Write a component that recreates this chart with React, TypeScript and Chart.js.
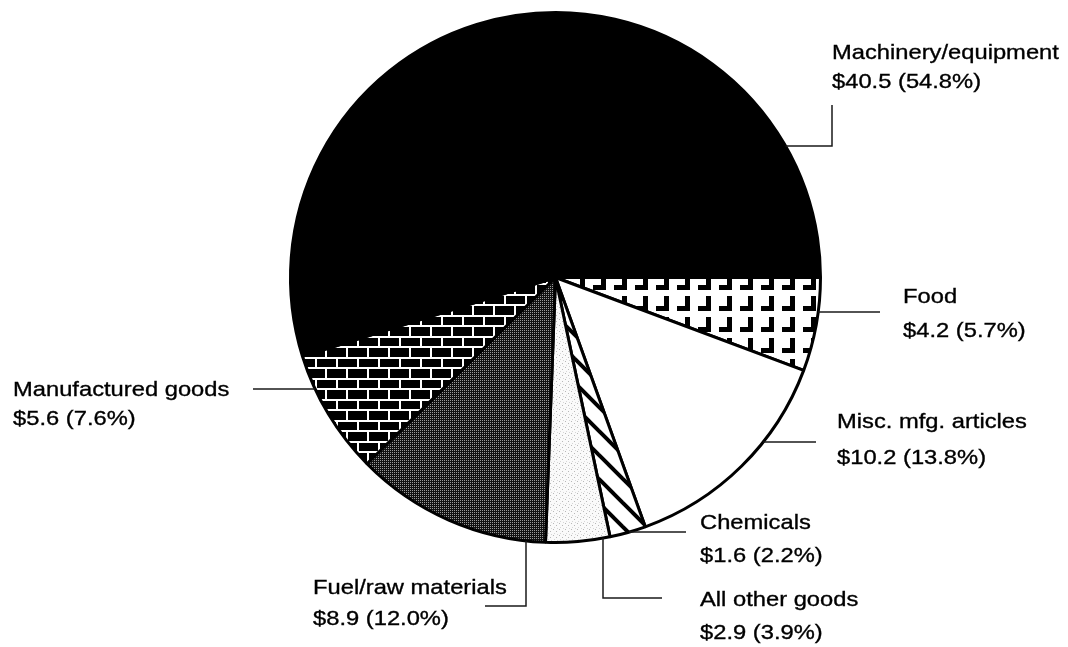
import React, { useEffect, useRef } from 'react';
import { Chart, registerables } from 'chart.js';

Chart.register(...registerables);

// Slices are listed clockwise starting from 3 o'clock.
const categories = [
  'Food',
  'Misc. mfg. articles',
  'Chemicals',
  'All other goods',
  'Fuel/raw materials',
  'Manufactured goods',
  'Machinery/equipment',
];
const amounts = [4.2, 10.2, 1.6, 2.9, 8.9, 5.6, 40.5];
const shares = [5.7, 13.8, 2.2, 3.9, 12.0, 7.6, 54.8];

type Leader =
  | { kind: 'h'; y: number; to: number; end?: number }
  | { kind: 'v'; x: number; to: number; end: number };

// Label anchor (left x, two baselines) and leader-line routing per slice.
const labelLayout: { x: number; lines: [number, number]; leader: Leader }[] = [
  { x: 903, lines: [303, 337], leader: { kind: 'h', y: 312, to: 880 } },
  { x: 837, lines: [428, 464], leader: { kind: 'h', y: 442, to: 816 } },
  { x: 700, lines: [529, 562], leader: { kind: 'h', y: 532, to: 686 } },
  { x: 700, lines: [606, 639], leader: { kind: 'v', x: 603, to: 598, end: 662 } },
  { x: 313, lines: [594, 625], leader: { kind: 'v', x: 526, to: 606, end: 485 } },
  { x: 13, lines: [396, 425], leader: { kind: 'h', y: 389, to: 253 } },
  { x: 832, lines: [59, 88], leader: { kind: 'h', y: 146, to: 832, end: 105 } },
];

function makeTile(w: number, h: number, draw: (c: CanvasRenderingContext2D) => void) {
  const cv = document.createElement('canvas');
  cv.width = w;
  cv.height = h;
  const c = cv.getContext('2d')!;
  draw(c);
  return cv;
}

function makePatterns(ctx: CanvasRenderingContext2D) {
  // bold "┘" marks on white
  const food = makeTile(21, 21, (c) => {
    c.fillStyle = '#fff';
    c.fillRect(0, 0, 21, 21);
    c.fillStyle = '#000';
    c.fillRect(13, 2, 5, 15);
    c.fillRect(5, 12, 13, 5);
  });
  // diagonal hatch
  const hatch = makeTile(24, 24, (c) => {
    c.fillStyle = '#fff';
    c.fillRect(0, 0, 24, 24);
    c.strokeStyle = '#000';
    c.lineWidth = 4;
    for (const o of [-24, 0, 24]) {
      c.beginPath();
      c.moveTo(o - 3, -3);
      c.lineTo(o + 27, 27);
      c.stroke();
    }
  });
  // sparse light stipple
  const light = makeTile(6, 6, (c) => {
    c.fillStyle = '#fafafa';
    c.fillRect(0, 0, 6, 6);
    c.fillStyle = '#b8b8b8';
    c.fillRect(1, 1, 1, 1);
    c.fillRect(4, 3, 1, 1);
    c.fillStyle = '#d6d6d6';
    c.fillRect(2, 5, 1, 1);
    c.fillRect(5, 0, 1, 1);
  });
  // dense dark halftone
  const bayer = [
    [0, 32, 8, 40, 2, 34, 10, 42],
    [48, 16, 56, 24, 50, 18, 58, 26],
    [12, 44, 4, 36, 14, 46, 6, 38],
    [60, 28, 52, 20, 62, 30, 54, 22],
    [3, 35, 11, 43, 1, 33, 9, 41],
    [51, 19, 59, 27, 49, 17, 57, 25],
    [15, 47, 7, 39, 13, 45, 5, 37],
    [63, 31, 55, 23, 61, 29, 53, 21],
  ];
  const dark = makeTile(8, 8, (c) => {
    c.fillStyle = '#111';
    c.fillRect(0, 0, 8, 8);
    c.fillStyle = '#9a9a9a';
    for (let y = 0; y < 8; y++)
      for (let x = 0; x < 8; x++) if (bayer[y][x] < 16) c.fillRect(x, y, 1, 1);
  });
  // white mortar lines on black bricks
  const brick = makeTile(42, 21, (c) => {
    c.fillStyle = '#000';
    c.fillRect(0, 0, 42, 21);
    c.fillStyle = '#fff';
    c.fillRect(0, 0, 42, 2);
    c.fillRect(0, 10, 42, 2);
    c.fillRect(0, 0, 2, 10);
    c.fillRect(21, 0, 2, 10);
    c.fillRect(10, 10, 2, 11);
    c.fillRect(31, 10, 2, 11);
  });
  const p = (cv: HTMLCanvasElement) => ctx.createPattern(cv, 'repeat')!;
  return [p(food), '#ffffff', p(hatch), p(light), p(dark), p(brick), '#000000'];
}

const labelPlugin = {
  id: 'sliceLabels',
  afterDraw(chart: any) {
    const ctx: CanvasRenderingContext2D = chart.ctx;
    const arc = chart.getDatasetMeta(0).data[0];
    const cx = arc.x;
    const cy = arc.y;
    const r = arc.outerRadius;
    ctx.save();
    ctx.strokeStyle = '#1a1a1a';
    ctx.lineWidth = 1.5;
    labelLayout.forEach((lay) => {
      const L = lay.leader;
      ctx.beginPath();
      if (L.kind === 'h') {
        const dx = Math.sqrt(Math.max(r * r - (L.y - cy) ** 2, 0));
        const sx = L.to > cx ? cx + dx : cx - dx;
        ctx.moveTo(sx, L.y);
        ctx.lineTo(L.to, L.y);
        if (L.end !== undefined) ctx.lineTo(L.to, L.end);
      } else {
        const dy = Math.sqrt(Math.max(r * r - (L.x - cx) ** 2, 0));
        const sy = L.to > cy ? cy + dy : cy - dy;
        ctx.moveTo(L.x, sy);
        ctx.lineTo(L.x, L.to);
        ctx.lineTo(L.end, L.to);
      }
      ctx.stroke();
    });
    ctx.fillStyle = '#000';
    ctx.strokeStyle = '#000';
    ctx.lineWidth = 0.35;
    ctx.font = '21px "Liberation Sans", Arial, sans-serif';
    ctx.textBaseline = 'alphabetic';
    ctx.textAlign = 'left';
    categories.forEach((name, i) => {
      const lay = labelLayout[i];
      const texts = [name, `$${amounts[i].toFixed(1)} (${shares[i].toFixed(1)}%)`];
      texts.forEach((t, k) => {
        ctx.save();
        ctx.translate(lay.x, lay.lines[k]);
        ctx.scale(1.13, 1);
        ctx.fillText(t, 0, 0);
        ctx.strokeText(t, 0, 0);
        ctx.restore();
      });
    });
    ctx.restore();
  },
};

export default function App() {
  const ref = useRef<HTMLCanvasElement>(null);
  useEffect(() => {
    const canvas = ref.current!;
    const ctx = canvas.getContext('2d')!;
    const chart = new Chart(canvas, {
      type: 'pie',
      data: {
        labels: categories,
        datasets: [
          {
            data: shares,
            backgroundColor: makePatterns(ctx) as any,
            borderColor: '#000',
            borderWidth: 3,
            hoverOffset: 0,
          },
        ],
      },
      options: {
        responsive: false,
        animation: false,
        rotation: 90,
        layout: { padding: { left: 289, top: 11, right: 246, bottom: 103 } },
        plugins: {
          legend: { display: false },
          tooltip: { enabled: false },
          title: { display: false },
        },
      },
      plugins: [labelPlugin],
    });
    return () => chart.destroy();
  }, []);
  return (
    <div style={{ position: 'absolute', left: 0, top: 0, width: 1068, height: 647, background: '#fff' }}>
      <canvas ref={ref} width={1068} height={647} />
    </div>
  );
}
